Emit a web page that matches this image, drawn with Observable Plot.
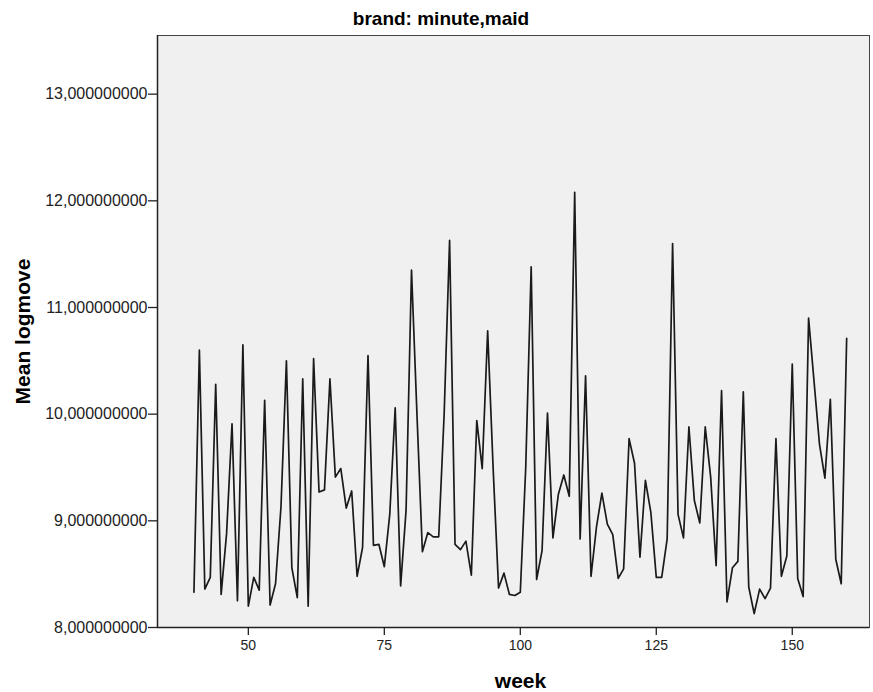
<!DOCTYPE html>
<html>
<head>
<meta charset="utf-8">
<script src="https://cdn.jsdelivr.net/npm/d3@7"></script>
<script src="https://cdn.jsdelivr.net/npm/@observablehq/plot@0.6"></script>
<style>
  body { margin: 0; background: #fff; font-family: "Liberation Sans", Arial, sans-serif; }
  #wrap { position: relative; width: 873px; height: 692px; }
  #title { position: absolute; top: 9px; left: 0; width: 882px; text-align: center;
           font-weight: bold; font-size: 19px; line-height: 19px; color: #000; z-index: 2; }
  #wrap svg { position: absolute; left: 0; top: 0; }
</style>
</head>
<body>
<div id="wrap"><div id="title">brand: minute,maid</div></div>
<script>
const weeks = [
  40, 41, 42, 43, 44, 45, 46, 47, 48, 49,
  50, 51, 52, 53, 54, 55, 56, 57, 58, 59,
  60, 61, 62, 63, 64, 65, 66, 67, 68, 69,
  70, 71, 72, 73, 74, 75, 76, 77, 78, 79,
  80, 81, 82, 83, 84, 85, 86, 87, 88, 89,
  90, 91, 92, 93, 94, 95, 96, 97, 98, 99,
  100, 101, 102, 103, 104, 105, 106, 107, 108, 109,
  110, 111, 112, 113, 114, 115, 116, 117, 118, 119,
  120, 121, 122, 123, 124, 125, 126, 127, 128, 129,
  130, 131, 132, 133, 134, 135, 136, 137, 138, 139,
  140, 141, 142, 143, 144, 145, 146, 147, 148, 149,
  150, 151, 152, 153, 154, 155, 156, 157, 158, 159,
  160
];
const meanLogmove = [
  8.33, 10.60, 8.36, 8.47, 10.28, 8.31, 8.88, 9.91, 8.25, 10.65,
  8.20, 8.47, 8.35, 10.13, 8.21, 8.41, 9.13, 10.50, 8.56, 8.28,
  10.33, 8.20, 10.52, 9.27, 9.29, 10.33, 9.41, 9.49, 9.12, 9.28,
  8.48, 8.75, 10.55, 8.77, 8.78, 8.57, 9.06, 10.06, 8.39, 9.10,
  11.35, 10.00, 8.71, 8.89, 8.85, 8.85, 10.00, 11.63, 8.78, 8.73,
  8.81, 8.49, 9.94, 9.49, 10.78, 9.50, 8.37, 8.51, 8.31, 8.30,
  8.33, 9.50, 11.38, 8.45, 8.72, 10.01, 8.84, 9.25, 9.43, 9.23,
  12.08, 8.83, 10.36, 8.48, 8.94, 9.26, 8.97, 8.87, 8.46, 8.55,
  9.77, 9.54, 8.66, 9.38, 9.08, 8.47, 8.47, 8.83, 11.60, 9.06,
  8.84, 9.88, 9.19, 8.98, 9.88, 9.41, 8.58, 10.22, 8.24, 8.56,
  8.62, 10.21, 8.38, 8.13, 8.36, 8.27, 8.37, 9.77, 8.48, 8.67,
  10.47, 8.46, 8.29, 10.90, 10.31, 9.72, 9.40, 10.14, 8.64, 8.41,
  10.71
];
const xTicks = [50, 75, 100, 125, 150];
const yTicks = [8, 9, 10, 11, 12, 13];
const xLabel = "week";
const yLabel = "Mean logmove";

const data = weeks.map((w, i) => ({week: w, value: meanLogmove[i]}));
const fontFamily = '"Liberation Sans", Arial, sans-serif';

const chart = Plot.plot({
  width: 873,
  height: 692,
  marginLeft: 157,
  marginRight: 4,
  marginTop: 35,
  marginBottom: 65,
  style: {fontFamily, fontSize: "14px", color: "#222", background: "transparent", overflow: "visible"},
  x: {domain: [33.3, 164.2], label: null},
  y: {domain: [8, 13.55], label: null},
  marks: [
    Plot.frame({fill: "#f0f0f0", stroke: null}),
    Plot.axisX({ticks: xTicks, tickSize: 8, tickPadding: 5, fontSize: 14,
                tickFormat: d => String(d), label: null, stroke: "#222", strokeWidth: 1.3}),
    Plot.axisY({ticks: yTicks, tickSize: 9, tickPadding: 1, fontSize: 16,
                tickFormat: d => d.toFixed(9).replace(".", ","), label: null, stroke: "#222", strokeWidth: 1.3}),
    Plot.lineY(data, {x: "week", y: "value", stroke: "#1a1a1a", strokeWidth: 1.7}),
    Plot.frame({stroke: "#444", strokeWidth: 1}),
    Plot.ruleY([8], {stroke: "#222", strokeWidth: 1.5}),
    Plot.ruleX([33.3], {stroke: "#222", strokeWidth: 1.5}),
    Plot.text([xLabel], {frameAnchor: "bottom", dx: 7, dy: 54, lineAnchor: "middle",
                         fontWeight: "bold", fontSize: 21, fill: "#000"}),
    Plot.text([yLabel], {frameAnchor: "left", dx: -134, rotate: -90, lineAnchor: "middle",
                         textAnchor: "middle", fontWeight: "bold", fontSize: 21, fill: "#000"})
  ]
});
document.getElementById("wrap").appendChild(chart);
</script>
</body>
</html>
